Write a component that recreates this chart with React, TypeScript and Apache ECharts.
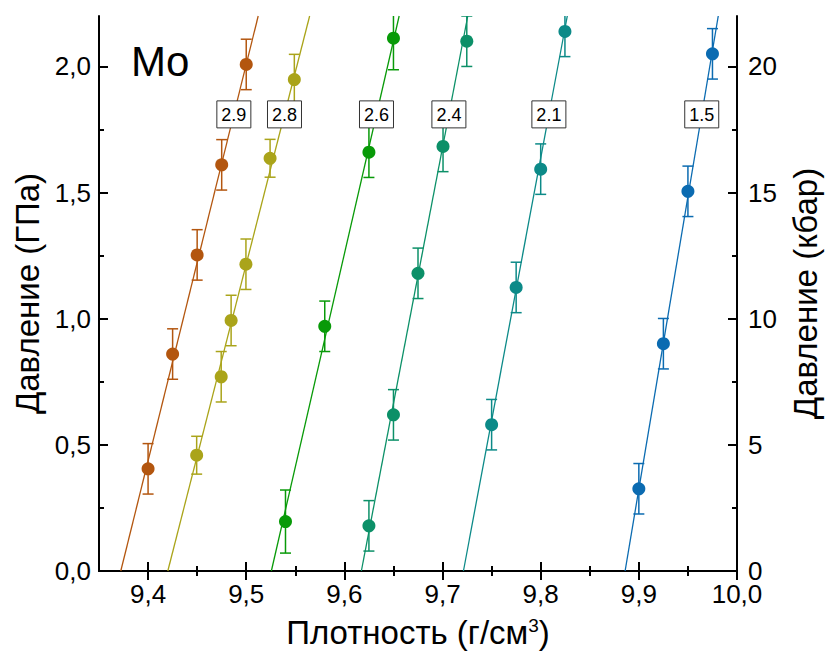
import React, { useEffect, useRef } from "react";
import * as echarts from "echarts";

// Isotherm labels and colours
const seriesLabels = ["2.9", "2.8", "2.6", "2.4", "2.1", "1.5"];
const seriesColors = ["#b3560f", "#aaa41a", "#089a08", "#0c9068", "#0c8a88", "#0b6bb1"];

// Measured points: density (g/cm3), pressure (GPa), error (GPa)
const density29 = [9.4, 9.425, 9.45, 9.475, 9.5];
const pressure29 = [0.405, 0.86, 1.253, 1.61, 2.008];
const error29 = [0.1, 0.1, 0.1, 0.1, 0.1];

const density28 = [9.4495, 9.4745, 9.4846, 9.4997, 9.5243, 9.549];
const pressure28 = [0.459, 0.77, 0.993, 1.216, 1.636, 1.948];
const error28 = [0.075, 0.1, 0.1, 0.1, 0.075, 0.1];

const density26 = [9.54, 9.58, 9.625, 9.65];
const pressure26 = [0.196, 0.97, 1.66, 2.112];
const error26 = [0.125, 0.1, 0.1, 0.125];

const density24 = [9.625, 9.65, 9.675, 9.7005, 9.7247];
const pressure24 = [0.179, 0.619, 1.18, 1.683, 2.1];
const error24 = [0.1, 0.1, 0.1, 0.1, 0.1];

const density21 = [9.75, 9.775, 9.8, 9.8247];
const pressure21 = [0.58, 1.124, 1.593, 2.139];
const error21 = [0.1, 0.1, 0.1, 0.1];

const density15 = [9.9, 9.925, 9.95, 9.975];
const pressure15 = [0.326, 0.901, 1.505, 2.05];
const error15 = [0.1, 0.1, 0.1, 0.1];

// Linear fits: density at 0 GPa and at 2.2 GPa
const fitDensityLow = [9.3722, 9.4201, 9.5256, 9.6173, 9.7213, 9.886];
const fitDensityHigh = [9.5122, 9.5646, 9.6558, 9.7257, 9.8271, 9.9809];

// Axis ticks
const densityTicks = [9.4, 9.5, 9.6, 9.7, 9.8, 9.9, 10.0];
const densityMinorTicks = [9.4, 9.45, 9.5, 9.55, 9.6, 9.65, 9.7, 9.75, 9.8, 9.85, 9.9, 9.95];
const gpaTicks = [0, 0.5, 1.0, 1.5, 2.0];
const gpaMinorTicks = [0.25, 0.75, 1.25, 1.75];
const kbarTicks = [0, 5, 10, 15, 20];
const kbarMinorTicks = [2.5, 7.5, 12.5, 17.5];

const X_MIN = 9.35;
const X_MAX = 10.0;
const P_MAX = 2.2;
const LABEL_P = 1.81;

const FONT = "'Liberation Sans', Arial, sans-serif";

const allDensity = [density29, density28, density26, density24, density21, density15];
const allPressure = [pressure29, pressure28, pressure26, pressure24, pressure21, pressure15];
const allError = [error29, error28, error26, error24, error21, error15];

const commaFmt = (v: number) => v.toFixed(1).replace(".", ",");

export default function App() {
  const ref = useRef<HTMLDivElement>(null);

  useEffect(() => {
    if (!ref.current) return;
    const chart = echarts.init(ref.current, undefined, { renderer: "svg" });

    const series: any[] = [];

    seriesLabels.forEach((name, i) => {
      const color = seriesColors[i];
      // fit line
      series.push({
        type: "line",
        name: name + " fit",
        data: [
          [fitDensityLow[i], 0],
          [fitDensityHigh[i], P_MAX],
        ],
        showSymbol: false,
        symbol: "none",
        lineStyle: { color, width: 1.3 },
        clip: true,
        z: 2,
        silent: true,
      });
      // error bars
      series.push({
        type: "custom",
        name: name + " err",
        data: allDensity[i].map((d, k) => [d, allPressure[i][k], allError[i][k]]),
        clip: true,
        z: 3,
        renderItem: (_params: any, api: any) => {
          const x = api.value(0);
          const y = api.value(1);
          const e = api.value(2);
          const top = api.coord([x, y + e]);
          const bot = api.coord([x, y - e]);
          const hw = 5.5;
          const st = { stroke: color, lineWidth: 1.5 };
          return {
            type: "group",
            children: [
              { type: "line", shape: { x1: top[0], y1: top[1], x2: bot[0], y2: bot[1] }, style: st },
              { type: "line", shape: { x1: top[0] - hw, y1: top[1], x2: top[0] + hw, y2: top[1] }, style: st },
              { type: "line", shape: { x1: bot[0] - hw, y1: bot[1], x2: bot[0] + hw, y2: bot[1] }, style: st },
            ],
          };
        },
      });
      // markers
      series.push({
        type: "scatter",
        name,
        data: allDensity[i].map((d, k) => [d, allPressure[i][k]]),
        symbol: "circle",
        symbolSize: 13,
        itemStyle: { color, opacity: 1 },
        z: 4,
      });
    });

    // boxed isotherm labels placed on their fit lines
    const labelData = seriesLabels.map((name, i) => [
      fitDensityLow[i] + ((fitDensityHigh[i] - fitDensityLow[i]) * LABEL_P) / P_MAX,
      LABEL_P,
      name,
    ]);
    series.push({
      type: "custom",
      name: "labels",
      data: labelData,
      z: 10,
      clip: false,
      renderItem: (params: any, api: any) => {
        const p = api.coord([api.value(0), api.value(1)]);
        const text = String(labelData[params.dataIndex][2]);
        return {
          type: "group",
          children: [
            {
              type: "rect",
              shape: { x: p[0] - 17, y: p[1] - 13.5, width: 34, height: 27 },
              style: { fill: "#fff", stroke: "#333", lineWidth: 1 },
            },
            {
              type: "text",
              x: p[0],
              y: p[1] + 1,
              style: {
                text,
                fill: "#000",
                fontSize: 18,
                fontFamily: FONT,
                align: "center",
                verticalAlign: "middle",
              },
            },
          ],
        };
      },
    });

    const axisLine = { show: true, lineStyle: { color: "#000", width: 2 } };

    chart.setOption({
      animation: false,
      backgroundColor: "#fff",
      grid: { left: 99, right: 85, top: 16, bottom: 78, containLabel: false },
      graphic: [
        {
          type: "text",
          left: 131,
          top: 40,
          style: { text: "Mo", fontSize: 42, fontFamily: FONT, fill: "#000" },
        },
      ],
      xAxis: [
        {
          type: "value",
          position: "bottom",
          min: X_MIN,
          max: X_MAX,
          axisLine,
          axisTick: { show: true, inside: true, length: 9, customValues: densityTicks, lineStyle: { color: "#000", width: 2 } },
          axisLabel: {
            show: true,
            customValues: densityTicks,
            formatter: commaFmt,
            fontSize: 26,
            lineHeight: 22,
            fontFamily: FONT,
            color: "#000",
            margin: 12,
          },
          splitLine: { show: false },
          name: "Плотность (г/см{sup|3})",
          nameLocation: "middle",
          nameGap: 45,
          nameTextStyle: {
            fontSize: 33,
            fontFamily: FONT,
            color: "#000",
            rich: { sup: { fontSize: 19, fontFamily: FONT, color: "#000", verticalAlign: "top" } },
          },
        },
        {
          type: "value",
          position: "bottom",
          min: X_MIN,
          max: X_MAX,
          axisLine: { show: false },
          axisTick: { show: true, inside: true, length: 5, customValues: densityMinorTicks, lineStyle: { color: "#000", width: 2 } },
          axisLabel: { show: false },
          splitLine: { show: false },
        },
        {
          type: "value",
          position: "top",
          min: X_MIN,
          max: X_MAX,
          axisLine,
          axisTick: { show: true, inside: true, length: 9, customValues: densityTicks, lineStyle: { color: "#000", width: 2 } },
          axisLabel: { show: false },
          splitLine: { show: false },
        },
        {
          type: "value",
          position: "top",
          min: X_MIN,
          max: X_MAX,
          axisLine: { show: false },
          axisTick: { show: true, inside: true, length: 5, customValues: densityMinorTicks, lineStyle: { color: "#000", width: 2 } },
          axisLabel: { show: false },
          splitLine: { show: false },
        },
      ],
      yAxis: [
        {
          type: "value",
          position: "left",
          min: 0,
          max: P_MAX,
          axisLine,
          axisTick: { show: true, inside: true, length: 9, customValues: gpaTicks, lineStyle: { color: "#000", width: 2 } },
          axisLabel: {
            show: true,
            customValues: gpaTicks,
            formatter: commaFmt,
            fontSize: 26,
            lineHeight: 22,
            fontFamily: FONT,
            color: "#000",
            margin: 8,
          },
          splitLine: { show: false },
          name: "Давление (ГПа)",
          nameLocation: "middle",
          nameRotate: 90,
          nameGap: 52,
          nameTextStyle: { fontSize: 33, fontFamily: FONT, color: "#000" },
        },
        {
          type: "value",
          position: "left",
          min: 0,
          max: P_MAX,
          axisLine: { show: false },
          axisTick: { show: true, inside: true, length: 5, customValues: gpaMinorTicks, lineStyle: { color: "#000", width: 2 } },
          axisLabel: { show: false },
          splitLine: { show: false },
        },
        {
          type: "value",
          position: "right",
          min: 0,
          max: P_MAX * 10,
          axisLine,
          axisTick: { show: true, inside: true, length: 9, customValues: kbarTicks, lineStyle: { color: "#000", width: 2 } },
          axisLabel: {
            show: true,
            customValues: kbarTicks,
            formatter: (v: number) => String(Math.round(v)),
            fontSize: 26,
            lineHeight: 22,
            fontFamily: FONT,
            color: "#000",
            margin: 11,
          },
          splitLine: { show: false },
          name: "Давление (кбар)",
          nameLocation: "middle",
          nameRotate: 90,
          nameGap: 52,
          nameTextStyle: { fontSize: 33, fontFamily: FONT, color: "#000" },
        },
        {
          type: "value",
          position: "right",
          min: 0,
          max: P_MAX * 10,
          axisLine: { show: false },
          axisTick: { show: true, inside: true, length: 5, customValues: kbarMinorTicks, lineStyle: { color: "#000", width: 2 } },
          axisLabel: { show: false },
          splitLine: { show: false },
        },
      ],
      series,
    });

    return () => chart.dispose();
  }, []);

  return (
    <div
      ref={ref}
      style={{ position: "fixed", left: 0, top: 0, width: 830, height: 654, background: "#fff" }}
    />
  );
}
